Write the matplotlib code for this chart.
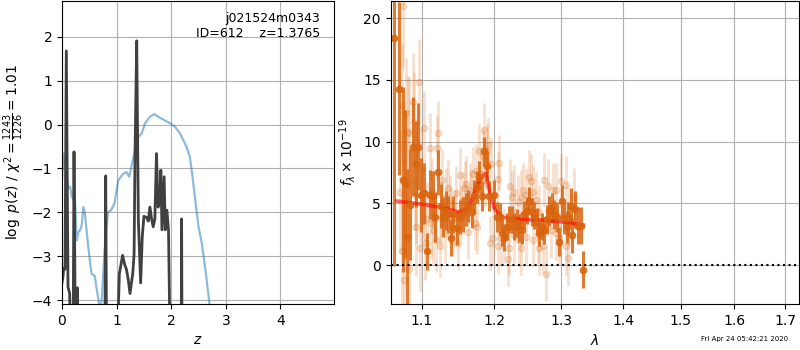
import matplotlib
matplotlib.use('Agg')
import matplotlib.pyplot as plt
from matplotlib.ticker import FixedLocator, FixedFormatter, NullLocator

# --- redshift PDF panel ---
z_prior = [0.0, 0.03, 0.06, 0.09, 0.12, 0.15, 0.18, 0.21, 0.24, 0.27, 0.30, 0.33,
           0.36, 0.39, 0.42, 0.48, 0.54, 0.60, 0.63, 0.68, 0.70, 0.73, 0.78, 0.84,
           0.90, 0.96, 1.03, 1.10, 1.15, 1.18, 1.23, 1.31, 1.40, 1.46, 1.52, 1.61,
           1.69, 1.76, 1.89, 1.98, 2.07, 2.16, 2.22, 2.28, 2.34, 2.39, 2.44, 2.50,
           2.56, 2.62, 2.70, 2.80, 3.00]
lnp_prior = [-1.25, -0.66, -0.9, -1.25, -1.45, -1.42, -1.64, -1.72, -1.76, -2.64, -2.45, -2.41,
             -2.3, -1.88, -2.03, -2.78, -3.4, -3.45, -3.7, -4.1, -4.4, -3.9, -2.9, -2.0,
             -1.95, -1.8, -1.27, -1.15, -1.1, -1.08, -1.19, -0.73, -0.28, -0.2, 0.03, 0.18,
             0.24, 0.18, 0.09, 0.03, -0.05, -0.2, -0.35, -0.51, -0.73, -1.19, -1.72, -2.33,
             -2.71, -3.25, -4.08, -5.5, -8.0]

z_grid = [0.0, 0.018, 0.03, 0.055, 0.079, 0.11, 0.14, 0.17, 0.2, 0.22, 0.25, 0.28, 0.3,
          0.34, 0.78, 0.80, 0.82, 0.99, 1.05, 1.11, 1.15, 1.18, 1.215, 1.245, 1.295,
          1.32, 1.337, 1.368, 1.398, 1.44, 1.47, 1.50, 1.55, 1.58, 1.61, 1.64, 1.67,
          1.70, 1.73, 1.76, 1.79, 1.81, 1.83, 1.87, 1.89, 1.92, 1.95, 1.99, 2.18,
          2.19, 2.20, 4.9]
lnp = [-3.6, -3.47, -3.28, -3.3, 1.68, -3.7, -3.85, -6.0, -6.0, -0.62, -6.0, -3.72, -6.0,
       -6.0, -6.0, -1.17, -6.0, -6.0, -3.4, -2.98, -3.2, -3.3, -3.55, -3.85, -3.4,
       -2.95, -0.66, 1.91, -2.18, -3.61, -2.55, -2.09, -2.12, -2.2, -1.88, -2.15, -2.33,
       -2.15, -0.66, -1.88, -1.75, -1.04, -2.4, -1.19, -2.4, -1.95, -2.4, -6.0, -6.0,
       -2.15, -6.0, -6.0]

# --- spectrum panel ---
wave_bin = [1.0645, 1.0709, 1.0752, 1.0782, 1.0812, 1.0847, 1.0890, 1.0925, 1.0956, 1.0986,
            1.1031, 1.1075, 1.1110, 1.1146, 1.1177, 1.1222, 1.1258, 1.1289, 1.1325, 1.1357,
            1.1393, 1.1425, 1.1480, 1.1517, 1.1554, 1.1600, 1.1633, 1.1679, 1.1716, 1.1749,
            1.1786, 1.1819, 1.1857, 1.1890, 1.1928, 1.2000, 1.2034, 1.2082, 1.2111, 1.2145,
            1.2179, 1.2218, 1.2252, 1.2291, 1.2326, 1.2365, 1.2400, 1.2439, 1.2474, 1.2509,
            1.2549, 1.2589, 1.2624, 1.2665, 1.2700, 1.2741, 1.2777, 1.2818, 1.2854, 1.2890,
            1.2931, 1.2972, 1.3009, 1.3050, 1.3087, 1.3113, 1.3150, 1.3176, 1.3218, 1.3271,
            1.3314, 1.3351]
flux_bin = [18.4, 14.3, 6.9, 6.6, 2.3, 4.9, 9.6, 8.2, 9.6, 5.7,
            5.8, 1.1, 5.7, 5.6, 3.9, 7.5, 4.8, 3.9, 4.4, 4.1,
            2.2, 4.1, 3.0, 3.9, 4.1, 4.5, 4.8, 4.3, 5.6, 6.3,
            7.1, 5.6, 9.2, 8.0, 5.6, 5.7, 3.9, 3.9, 2.6, 2.2,
            3.1, 3.7, 3.7, 3.1, 3.4, 3.0, 2.8, 4.1, 4.4, 5.2,
            4.3, 4.0, 3.5, 2.6, 3.1, 2.8, 3.7, 4.4, 4.6, 4.1,
            3.9, 1.9, 5.2, 3.8, 3.1, 3.8, 4.8, 2.4, 4.5, 3.2,
            3.2, -0.4]
err_bin = [18.5, 7.0, 7.5, 6.0, 5.5, 4.5, 4.0, 3.5, 3.5, 3.0,
           2.5, 1.5, 2.0, 2.0, 2.0, 1.8, 1.8, 1.6, 1.6, 1.5,
           1.5, 1.5, 1.4, 1.4, 1.4, 1.3, 1.3, 1.3, 1.3, 1.3,
           1.3, 1.2, 1.2, 1.2, 1.2, 1.2, 1.2, 1.1, 1.1, 1.1,
           1.1, 1.1, 1.1, 1.1, 1.1, 1.1, 1.1, 1.1, 1.1, 1.1,
           1.1, 1.1, 1.1, 1.1, 1.1, 1.1, 1.2, 1.2, 1.2, 1.2,
           1.2, 1.2, 1.3, 1.3, 1.3, 1.3, 1.4, 1.4, 1.5, 1.5,
           1.5, 1.5]

wave_raw = [1.0715, 1.0738, 1.0750, 1.0762, 1.0772, 1.0802, 1.0823, 1.0832, 1.0840, 1.0887,
            1.0900, 1.0909, 1.0922, 1.0930, 1.0961, 1.0974, 1.0995, 1.1017, 1.1031, 1.1048,
            1.1075, 1.1106, 1.1119, 1.1141, 1.1150, 1.1194, 1.1208, 1.1217, 1.1240, 1.1262,
            1.1275, 1.1307, 1.1329, 1.1353, 1.1376, 1.1398, 1.1421, 1.1444, 1.1466, 1.1490,
            1.1513, 1.1535, 1.1559, 1.1583, 1.1605, 1.1628, 1.1652, 1.1674, 1.1698, 1.1721,
            1.1744, 1.1758, 1.1777, 1.1814, 1.1837, 1.1851, 1.1861, 1.1884, 1.1903, 1.1906,
            1.1939, 1.1953, 1.1978, 1.2049, 1.2049, 1.2072, 1.2097, 1.2144, 1.2193, 1.2217,
            1.2228, 1.2257, 1.2291, 1.2291, 1.2341, 1.2365, 1.2390, 1.2390, 1.2415, 1.2464,
            1.2464, 1.2514, 1.2540, 1.2565, 1.2575, 1.2615, 1.2641, 1.2665, 1.2665, 1.2717,
            1.2741, 1.2767, 1.2793, 1.2844, 1.2870, 1.2921, 1.2921, 1.2973, 1.2999, 1.3077,
            1.3077, 1.3104, 1.3129, 1.3209]
flux_raw = [5.9, 13.0, 1.1, 21.0, -1.2, 12.3, 10.8, -0.3, 10.7, 13.2,
            11.6, 6.8, 3.1, 5.7, 14.8, 1.4, 7.7, 5.0, 11.1, 1.8,
            3.7, 9.5, 3.4, 5.9, 2.8, 2.0, 9.5, 10.7, 1.5, 4.3,
            6.9, 2.6, 5.5, 6.2, 5.0, 3.9, 3.0, 3.8, 5.8, 1.8,
            7.3, 4.3, 5.3, 6.2, 6.6, 2.7, 6.1, 5.5, 7.4, 3.4,
            7.6, 3.1, 9.2, 7.4, 8.8, 10.9, 6.9, 8.4, 9.2, 9.7,
            1.8, 8.2, 2.2, 7.0, 1.5, 8.3, 2.2, 2.4, 0.5, 1.4,
            6.4, 5.5, 5.9, 2.4, 5.1, 2.0, 5.5, 1.4, 6.1, 5.7,
            2.3, 7.1, 6.8, 2.0, 5.9, 5.3, 2.4, 4.3, 1.4, 1.5,
            6.9, -0.7, 6.4, 2.8, 6.1, 6.1, 2.6, 2.2, 6.8, 6.5,
            1.5, 0.6, 3.9, 5.5]
err_raw = [5.0, 5.0, 5.0, 5.0, 5.0, 4.5, 4.5, 4.5, 4.5, 4.0,
           4.0, 4.0, 4.0, 4.0, 3.5, 3.5, 3.5, 3.0, 3.0, 3.0,
           3.0, 2.8, 2.8, 2.8, 2.8, 2.6, 2.6, 2.6, 2.5, 2.5,
           2.5, 2.4, 2.4, 2.4, 2.3, 2.3, 2.3, 2.3, 2.2, 2.2,
           2.2, 2.2, 2.2, 2.2, 2.2, 2.2, 2.2, 2.2, 2.2, 2.2,
           2.2, 2.2, 2.2, 2.2, 2.2, 2.2, 2.2, 2.2, 2.2, 2.2,
           2.2, 2.2, 2.2, 2.2, 2.2, 2.2, 2.2, 2.2, 2.2, 2.2,
           2.2, 2.2, 2.2, 2.2, 2.2, 2.2, 2.2, 2.2, 2.2, 2.2,
           2.2, 2.2, 2.2, 2.2, 2.2, 2.2, 2.2, 2.2, 2.2, 2.2,
           2.2, 2.2, 2.2, 2.2, 2.2, 2.2, 2.2, 2.2, 2.2, 2.3,
           2.3, 2.3, 2.3, 2.4]

wave_model = [1.0675, 1.0978, 1.1334, 1.1515, 1.1630, 1.1748, 1.1841, 1.1880, 1.1937,
              1.2009, 1.2129, 1.2375, 1.2675, 1.2985, 1.3350]
flux_model = [5.19, 4.94, 4.59, 4.27, 4.59, 6.35, 7.29, 7.43, 5.81,
              4.46, 3.86, 3.70, 3.65, 3.51, 3.24]

lam_ticks = [1.1, 1.2, 1.3, 1.4, 1.5, 1.6, 1.7]
spec_color = '#d9650f'

fig = plt.figure(figsize=(8, 3.5), dpi=100)
ax1 = fig.add_axes([0.0775, 0.1314, 0.34, 0.866])
ax2 = fig.add_axes([0.4884, 0.1314, 0.5107, 0.866])

# left: p(z)
ax1.plot(z_prior, lnp_prior, color='#1f77b4', alpha=0.5, lw=1.6)
ax1.plot(z_grid, lnp, color='0.25', lw=2.0)
ax1.set_xlim(0, 4.98)
ax1.set_ylim(-4.09, 2.82)
ax1.set_xticks([0, 1, 2, 3, 4])
ax1.set_yticks([-4, -3, -2, -1, 0, 1, 2])
ax1.set_xlabel('$z$')
ax1.set_ylabel(r'$\log\ p(z)$ / $\chi^2=\frac{1243}{1226}=1.01$')
ax1.grid()
ax1.text(0.95, 0.965, 'j021524m0343\nID=612    z=1.3765', ha='right', va='top',
         transform=ax1.transAxes, fontsize=9)

# right: spectrum
ax2.errorbar(wave_raw, flux_raw, yerr=err_raw, marker='o', linestyle='none',
             color=spec_color, alpha=0.2, ms=4.5, elinewidth=2.0, capsize=0)
ax2.errorbar(wave_bin, flux_bin, yerr=err_bin, marker='o', linestyle='none',
             color=spec_color, alpha=0.85, ms=4.5, elinewidth=2.2, capsize=0)
ax2.plot(wave_model, flux_model, color='r', alpha=0.6, lw=2.6)
ax2.axhline(0, color='k', linestyle=':', lw=1.5)

ax2.set_xscale('log')
ax2.set_xlim(1.06, 1.7293)
ax2.xaxis.set_major_locator(FixedLocator(lam_ticks))
ax2.xaxis.set_major_formatter(FixedFormatter([f'{v:.1f}' for v in lam_ticks]))
ax2.xaxis.set_minor_locator(NullLocator())
ax2.set_ylim(-3.16, 21.4)
ax2.set_yticks([0, 5, 10, 15, 20])
ax2.set_xlabel(r'$\lambda$')
ax2.set_ylabel(r'$f_\lambda \times 10^{-19}$')
ax2.grid()

fig.text(0.985, 0.03, 'Fri Apr 24 05:42:21 2020', ha='right', va='center', fontsize=5)

fig.savefig('out.png', dpi=100)
